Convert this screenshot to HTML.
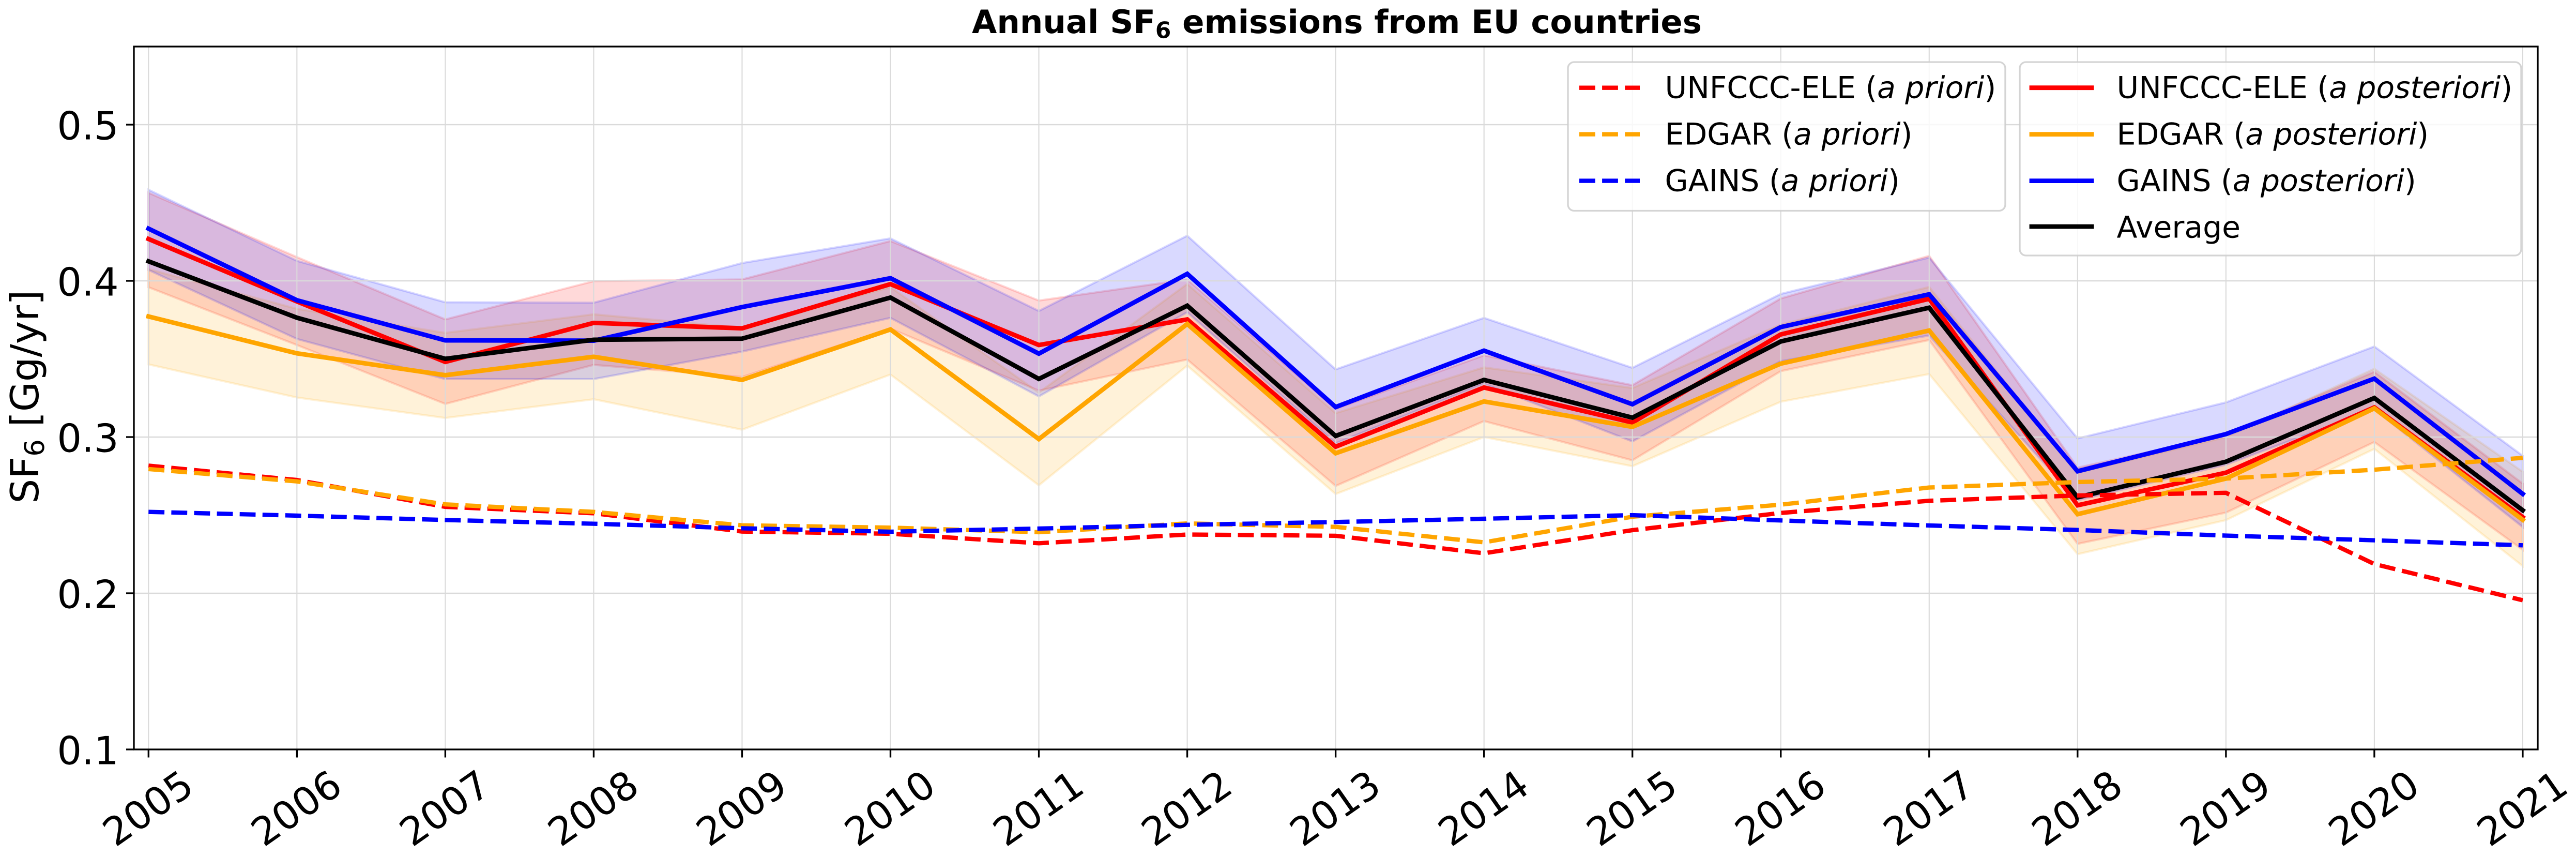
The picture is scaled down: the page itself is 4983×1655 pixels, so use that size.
<!DOCTYPE html>
<html lang="en">
<head>
<meta charset="utf-8">
<title>Annual SF6 emissions from EU countries</title>
<style>
html,body{margin:0;padding:0;background:#fff;}
body{width:4983px;height:1655px;overflow:hidden;}
svg{display:block;}
text{font-family:"DejaVu Sans","Liberation Sans",sans-serif;fill:#000;text-rendering:geometricPrecision;}
</style>
</head>
<body>
<svg id="chart" xmlns="http://www.w3.org/2000/svg" width="4983" height="1655" viewBox="0 0 4983 1655">
  <rect x="0" y="0" width="4983" height="1655" fill="#ffffff"/>
  <g id="bands"></g>
  <g id="grid"></g>
  <g id="solid-lines"></g>
  <g id="dashed-lines"></g>

  <g>
    <rect x="3033" y="120" width="846" height="287.5" rx="12" ry="12" fill="#ffffff" fill-opacity="0.8" stroke="#cccccc" stroke-opacity="0.85" stroke-width="3.33"/>
    <g>
      <line x1="3055" y1="169.7" x2="3172" y2="169.7" stroke="#ff0000" stroke-width="8.33" stroke-dasharray="30.8 13.3"/>
      <text x="3220.5" y="189.7" font-size="58.33">UNFCCC-ELE (<tspan font-style="italic">a priori</tspan>)</text>
    </g>
    <g>
      <line x1="3055" y1="259.6" x2="3172" y2="259.6" stroke="#ffa500" stroke-width="8.33" stroke-dasharray="30.8 13.3"/>
      <text x="3220.5" y="279.7" font-size="58.33">EDGAR (<tspan font-style="italic">a priori</tspan>)</text>
    </g>
    <g>
      <line x1="3055" y1="349.6" x2="3172" y2="349.6" stroke="#0000ff" stroke-width="8.33" stroke-dasharray="30.8 13.3"/>
      <text x="3220.5" y="369.7" font-size="58.33">GAINS (<tspan font-style="italic">a priori</tspan>)</text>
    </g>
  </g>

  <g>
    <rect x="3907" y="120" width="970" height="374" rx="12" ry="12" fill="#ffffff" fill-opacity="0.8" stroke="#cccccc" stroke-opacity="0.85" stroke-width="3.33"/>
    <g>
      <line x1="3930" y1="169.7" x2="4046" y2="169.7" stroke="#ff0000" stroke-width="8.8" stroke-linecap="square"/>
      <text x="4094.5" y="189.7" font-size="58.33">UNFCCC-ELE (<tspan font-style="italic">a posteriori</tspan>)</text>
    </g>
    <g>
      <line x1="3930" y1="259.6" x2="4046" y2="259.6" stroke="#ffa500" stroke-width="8.8" stroke-linecap="square"/>
      <text x="4094.5" y="279.7" font-size="58.33">EDGAR (<tspan font-style="italic">a posteriori</tspan>)</text>
    </g>
    <g>
      <line x1="3930" y1="349.6" x2="4046" y2="349.6" stroke="#0000ff" stroke-width="8.8" stroke-linecap="square"/>
      <text x="4094.5" y="369.7" font-size="58.33">GAINS (<tspan font-style="italic">a posteriori</tspan>)</text>
    </g>
    <g>
      <line x1="3930" y1="438" x2="4046" y2="438" stroke="#000000" stroke-width="8.8" stroke-linecap="square"/>
      <text x="4094.5" y="459.6" font-size="58.33">Average</text>
    </g>
  </g>

  <rect x="259" y="90" width="4650" height="1359" fill="none" stroke="#000000" stroke-width="3.33"/>
  <g id="ticks"></g>

  <text x="2586" y="64" font-size="62.5" font-weight="bold" text-anchor="middle">Annual SF<tspan font-size="43.75" dy="9.5">6</tspan><tspan dy="-9.5"> emissions from EU countries</tspan></text>
  <text transform="translate(74 767) rotate(-90)" font-size="75" text-anchor="middle">SF<tspan font-size="52.5" dy="11">6</tspan><tspan dy="-11"> [Gg/yr]</tspan></text>
</svg>

<script>
const years = [2005,2006,2007,2008,2009,2010,2011,2012,2013,2014,2015,2016,2017,2018,2019,2020,2021];
const yTicks = [0.1,0.2,0.3,0.4,0.5];
const yTickLabels = ["0.1","0.2","0.3","0.4","0.5"];

const unfcccPosterior = [.4268,.3868,.3481,.3731,.3696,.3979,.3589,.3753,.2938,.3317,.3093,.3657,.3885,.2563,.2772,.3190,.2487];
const edgarPosterior = [.3772,.3536,.3396,.3514,.3366,.3689,.2987,.3724,.2896,.3228,.3065,.3470,.3682,.2506,.2734,.3184,.2470];
const gainsPosterior = [.4334,.3876,.3619,.3617,.3832,.4017,.3534,.4045,.3192,.3553,.3210,.3704,.3914,.2781,.3019,.3374,.2636];
const averagePosterior = [.4125,.3764,.3501,.3623,.3630,.3893,.3372,.3841,.3007,.3366,.3124,.3612,.3828,.2614,.2842,.3250,.2531];

const unfcccUpper = [.4564,.4152,.3753,.3998,.4009,.4255,.3874,.4009,.3181,.3523,.3332,.3887,.4160,.2804,.3013,.3418,.2702];
const unfcccLower = [.3959,.3589,.3212,.3462,.3385,.3694,.3297,.3496,.2687,.3102,.2851,.3422,.3621,.2316,.2516,.2968,.2278];
const edgarUpper = [.4075,.3821,.3667,.3786,.3700,.3960,.3285,.3980,.3153,.3446,.3314,.3720,.3961,.2772,.3000,.3437,.2778];
const edgarLower = [.3465,.3253,.3122,.3242,.3047,.3400,.2691,.3457,.2635,.3000,.2813,.3226,.3403,.2250,.2468,.2924,.2174];
const gainsUpper = [.4583,.4128,.3863,.3860,.4114,.4272,.3807,.4289,.3433,.3763,.3443,.3916,.4149,.2991,.3222,.3580,.2880];
const gainsLower = [.4070,.3628,.3371,.3371,.3547,.3763,.3260,.3799,.2960,.3341,.2972,.3486,.3650,.2595,.2823,.3177,.2424];

const unfcccPrior = [.2817,.2725,.2553,.2512,.2395,.2381,.2320,.2376,.2368,.2256,.2404,.2514,.2592,.2626,.2643,.2187,.1955];
const edgarPrior = [.2795,.2716,.2569,.2521,.2435,.2420,.2391,.2447,.2425,.2326,.2490,.2567,.2677,.2712,.2734,.2791,.2867];
const gainsPrior = [.2521,.2497,.2469,.2445,.2416,.2394,.2414,.2438,.2456,.2477,.2500,.2466,.2434,.2405,.2369,.2339,.2307];

const SVG_NS = "http://www.w3.org/2000/svg";
function xScale(year){ return 287.3 + (year - 2005) * 287.04; }
function yScale(value){ return 1449 - (value - 0.1) * 3020; }
function pointsOf(values){ return values.map(function(v,i){ return xScale(years[i]).toFixed(2) + "," + yScale(v).toFixed(2); }); }
function make(tag){ return document.createElementNS(SVG_NS, tag); }

const bandLayer = document.getElementById("bands");
const gridLayer = document.getElementById("grid");
const solidLayer = document.getElementById("solid-lines");
const dashedLayer = document.getElementById("dashed-lines");
const tickLayer = document.getElementById("ticks");

function drawBand(name, upper, lower, color){
  const el = make("polygon");
  
  
  el.setAttribute("points", pointsOf(upper).concat(pointsOf(lower).reverse()).join(" "));
  el.setAttribute("fill", color);
  el.setAttribute("fill-opacity", "0.15");
  el.setAttribute("stroke", color);
  el.setAttribute("stroke-opacity", "0.15");
  el.setAttribute("stroke-width", "4.17");
  bandLayer.appendChild(el);
}
drawBand("band-unfccc-ele", unfcccUpper, unfcccLower, "#ff0000");
drawBand("band-edgar", edgarUpper, edgarLower, "#ffa500");
drawBand("band-gains", gainsUpper, gainsLower, "#0000ff");

years.forEach(function(year){
  const x = xScale(year).toFixed(2);
  const g = make("line");
  
  
  g.setAttribute("x1", x); g.setAttribute("x2", x);
  g.setAttribute("y1", 90); g.setAttribute("y2", 1449);
  g.setAttribute("stroke", "#dadada"); g.setAttribute("stroke-width", "2.1");
  gridLayer.appendChild(g);

  const t = make("line");
  
  
  t.setAttribute("x1", x); t.setAttribute("x2", x);
  t.setAttribute("y1", 1449); t.setAttribute("y2", 1464.5);
  t.setAttribute("stroke", "#000"); t.setAttribute("stroke-width", "3.33");
  tickLayer.appendChild(t);

  const label = make("text");
  
  
  label.setAttribute("transform", "translate(" + (xScale(year) - 1.5).toFixed(2) + " 1562) rotate(-35)");
  label.setAttribute("y", "27");
  label.setAttribute("font-size", "75");
  label.setAttribute("text-anchor", "middle");
  label.textContent = String(year);
  tickLayer.appendChild(label);
});

yTicks.forEach(function(tick, i){
  const y = yScale(tick).toFixed(2);
  const g = make("line");
  
  
  g.setAttribute("x1", 259); g.setAttribute("x2", 4909);
  g.setAttribute("y1", y); g.setAttribute("y2", y);
  g.setAttribute("stroke", "#dadada"); g.setAttribute("stroke-width", "2.6");
  gridLayer.appendChild(g);

  const t = make("line");
  
  
  t.setAttribute("x1", 244); t.setAttribute("x2", 259);
  t.setAttribute("y1", y); t.setAttribute("y2", y);
  t.setAttribute("stroke", "#000"); t.setAttribute("stroke-width", "3.33");
  tickLayer.appendChild(t);

  const label = make("text");
  
  
  label.setAttribute("x", "229.6");
  label.setAttribute("y", (yScale(tick) + 28.5).toFixed(2));
  label.setAttribute("font-size", "75");
  label.setAttribute("text-anchor", "end");
  label.textContent = yTickLabels[i];
  tickLayer.appendChild(label);
});

function drawSolid(name, values, color){
  const el = make("polyline");
  
  
  el.setAttribute("points", pointsOf(values).join(" "));
  el.setAttribute("fill", "none");
  el.setAttribute("stroke", color);
  el.setAttribute("stroke-width", "8.8");
  el.setAttribute("stroke-linecap", "square");
  el.setAttribute("stroke-linejoin", "miter");
  solidLayer.appendChild(el);
}
drawSolid("line-unfccc-ele-posterior", unfcccPosterior, "#ff0000");
drawSolid("line-edgar-posterior", edgarPosterior, "#ffa500");
drawSolid("line-gains-posterior", gainsPosterior, "#0000ff");
drawSolid("line-average", averagePosterior, "#000000");

function drawDashed(name, values, color){
  const el = make("polyline");
  
  
  el.setAttribute("points", pointsOf(values).join(" "));
  el.setAttribute("fill", "none");
  el.setAttribute("stroke", color);
  el.setAttribute("stroke-width", "8.33");
  el.setAttribute("stroke-dasharray", "30.8 13.3");
  el.setAttribute("stroke-linejoin", "miter");
  dashedLayer.appendChild(el);
}
drawDashed("line-unfccc-ele-prior", unfcccPrior, "#ff0000");
drawDashed("line-edgar-prior", edgarPrior, "#ffa500");
drawDashed("line-gains-prior", gainsPrior, "#0000ff");
</script>
</body>
</html>
